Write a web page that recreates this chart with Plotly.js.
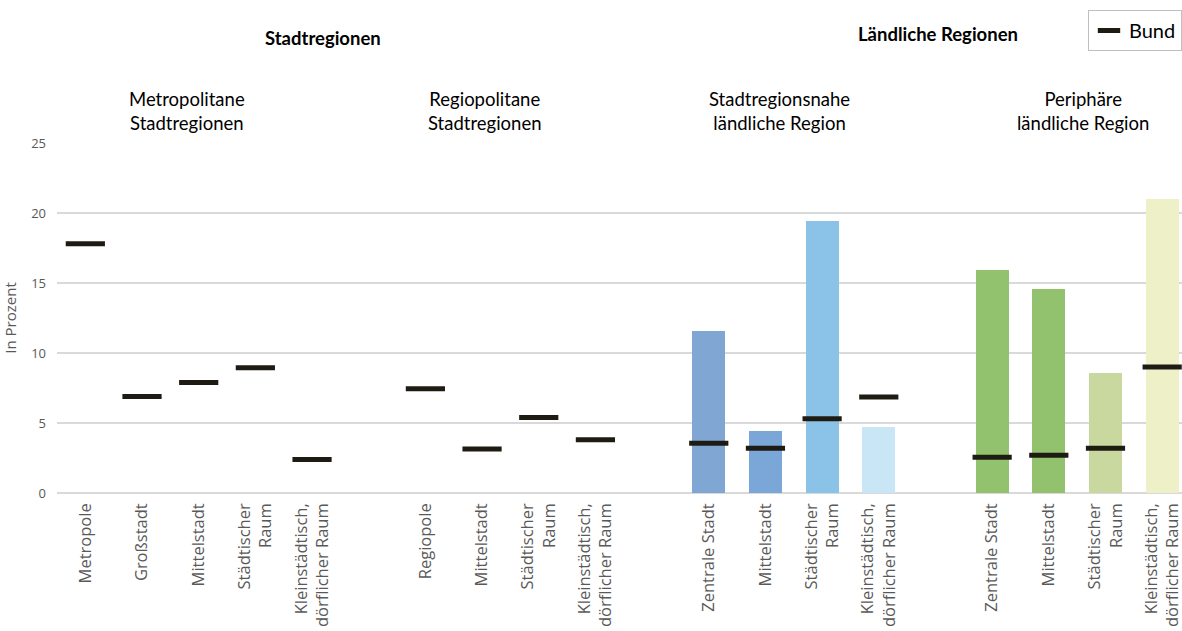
<!DOCTYPE html>
<html>
<head>
<meta charset="utf-8">
<script src="https://cdn.plot.ly/plotly-3.0.1.min.js"></script>
<style>html,body{margin:0;padding:0;background:#fff;}#chart{width:1182px;height:631px;}</style>
</head>
<body>
<div id="chart"></div>
<script>
// ---- data ----
const subregions = ["Metropolitane<br>Stadtregionen", "Regiopolitane<br>Stadtregionen", "Stadtregionsnahe<br>ländliche Region", "Periphäre<br>ländliche Region"];
const regionTypes = ["Stadtregionen", "Ländliche Regionen"];
const metroCategories = ["Metropole", "Großstadt", "Mittelstadt", "Städtischer<br>Raum", "Kleinstädtisch,<br>dörflicher Raum"];
const regioCategories = ["Regiopole", "Mittelstadt", "Städtischer<br>Raum", "Kleinstädtisch,<br>dörflicher Raum"];
const nahCategories = ["Zentrale Stadt", "Mittelstadt", "Städtischer<br>Raum", "Kleinstädtisch,<br>dörflicher Raum"];
const periCategories = ["Zentrale Stadt", "Mittelstadt", "Städtischer<br>Raum", "Kleinstädtisch,<br>dörflicher Raum"];

const metroBund = [17.8, 6.9, 7.9, 8.95, 2.4];
const regioBund = [7.45, 3.15, 5.4, 3.8];
const nahBund = [3.55, 3.2, 5.3, 6.85];
const periBund = [2.55, 2.7, 3.2, 9.0];

const metroValues = [null, null, null, null, null];
const regioValues = [null, null, null, null];
const nahValues = [11.6, 4.4, 19.4, 4.7];
const periValues = [15.9, 14.55, 8.55, 21.0];

const nahColors = ["#80A7D4", "#7BA7D8", "#8BC2E7", "#C9E6F7"];
const periColors = ["#93C26E", "#93C26E", "#C8D89F", "#EEF1C8"];
const emptyColors5 = ["#ffffff", "#ffffff", "#ffffff", "#ffffff", "#ffffff"];
const emptyColors4 = ["#ffffff", "#ffffff", "#ffffff", "#ffffff"];

// ---- build positions (one empty slot between sub-regions) ----
const groups = [
  {cats: metroCategories, bund: metroBund, vals: metroValues, cols: emptyColors5},
  {cats: regioCategories, bund: regioBund, vals: regioValues, cols: emptyColors4},
  {cats: nahCategories, bund: nahBund, vals: nahValues, cols: nahColors},
  {cats: periCategories, bund: periBund, vals: periValues, cols: periColors}
];
let xs = [], labels = [], bund = [], vals = [], cols = [];
let pos = 0;
groups.forEach(g => {
  g.cats.forEach((c, i) => {
    xs.push(pos); labels.push(c); bund.push(g.bund[i]); vals.push(g.vals[i]); cols.push(g.cols[i]);
    pos++;
  });
  pos++;
});

const barTrace = {
  type: 'bar', x: xs, y: vals, width: 0.58,
  marker: {color: cols, line: {width: 0}},
  showlegend: false, hoverinfo: 'y'
};
const bundTrace = {
  type: 'scatter', mode: 'markers', name: 'Bund', x: xs, y: bund,
  marker: {symbol: 'line-ew', size: 28, color: '#1e1b12', line: {color: '#1e1b12', width: 5}},
  showlegend: true
};

const fontSub = {family: 'Lato, "Open Sans", sans-serif', size: 18.5, color: '#000'};
const subX = [1.8, 7.05, 12.25, 17.6];
const annotations = subregions.map((s, i) => ({
  text: s, xref: 'x', yref: 'paper', x: subX[i], y: 1.09, yanchor: 'middle',
  showarrow: false, font: fontSub, align: 'center'
}));
annotations.push({text: '<b>' + regionTypes[0] + '</b>', xref: 'x', yref: 'paper', x: 4.19, y: 1.30, yanchor: 'middle', showarrow: false, font: {family: 'Lato, sans-serif', size: 18.5, color: '#000'}});
annotations.push({text: '<b>' + regionTypes[1] + '</b>', xref: 'x', yref: 'paper', x: 15.05, y: 1.31, yanchor: 'middle', showarrow: false, font: {family: 'Lato, sans-serif', size: 18.5, color: '#000'}});

const layout = {
  width: 1182, height: 631,
  margin: {l: 57, r: 0, t: 143, b: 138},
  paper_bgcolor: '#fff', plot_bgcolor: '#fff',
  font: {family: 'Open Sans, sans-serif', color: '#595959'},
  xaxis: {
    range: [-0.5, 19.35], tickmode: 'array', tickvals: xs, ticktext: labels,
    tickangle: -90, tickfont: {family: 'Open Sans, sans-serif', size: 16.5, color: '#595959'},
    ticklabelstandoff: 6, ticklabeloverflow: 'allow',
    showgrid: false, zeroline: false, showline: false, ticks: '', fixedrange: true
  },
  yaxis: {
    range: [0, 25], dtick: 5, tick0: 0,
    tickfont: {family: 'Open Sans, sans-serif', size: 13, color: '#595959'},
    ticklabelstandoff: 10,
    gridcolor: '#D9D9D9', gridwidth: 1.5, zeroline: true, zerolinecolor: '#D9D9D9', zerolinewidth: 1.5,
    ticks: '', ticklen: 0, showline: false,
    title: {text: 'In Prozent', font: {family: 'Open Sans, sans-serif', size: 15, color: '#595959'}, standoff: 12}
  },
  showlegend: true,
  legend: {
    x: 1, xanchor: 'right', y: 1.38, yanchor: 'top',
    bordercolor: '#BFBFBF', borderwidth: 1, bgcolor: '#fff',
    font: {family: 'Lato, "Open Sans", sans-serif', size: 20, color: '#000'},
    itemwidth: 30
  },
  annotations: annotations,
  bargap: 0
};

Plotly.newPlot('chart', [barTrace, bundTrace], layout, {displayModeBar: false, staticPlot: true});
</script>
</body>
</html>
